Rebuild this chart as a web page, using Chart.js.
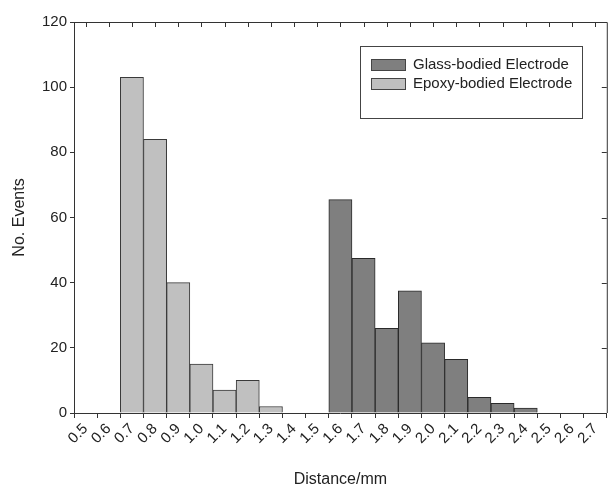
<!DOCTYPE html>
<html>
<head>
<meta charset="utf-8">
<script src="https://cdn.jsdelivr.net/npm/chart.js@4/dist/chart.umd.min.js"></script>
<style>
  html, body { margin: 0; padding: 0; background: #fff; }
  #wrap { width: 610px; height: 487px; }
</style>
</head>
<body>
<div id="wrap"><canvas id="chart" width="610" height="487"></canvas></div>
<script>
// bin centres (mm) and counts
var epoxyBins = [0.7, 0.8, 0.9, 1.0, 1.1, 1.2, 1.3];
var epoxyCounts = [103, 84, 40, 15, 7, 10, 2];
var glassBins = [1.6, 1.7, 1.8, 1.9, 2.0, 2.1, 2.2, 2.3, 2.4];
var glassCounts = [65.5, 47.5, 26, 37.5, 21.5, 16.5, 4.8, 3, 1.5];
var xTicks = [0.5, 0.6, 0.7, 0.8, 0.9, 1.0, 1.1, 1.2, 1.3, 1.4, 1.5, 1.6,
    1.7, 1.8, 1.9, 2.0, 2.1, 2.2, 2.3, 2.4, 2.5, 2.6, 2.7];
var yTicks = [0, 20, 40, 60, 80, 100, 120];

function toPoints(xs, ys) {
    return xs.map(function (x, i) { return {x: x, y: ys[i]}; });
}

var ink = '#222';
var fontFam = '"Liberation Sans", Arial, sans-serif';

// frame on top/right with inward ticks, plus boxed legend
var framePlugin = {
    id: 'frame',
    afterDraw: function (chart) {
        var ctx = chart.ctx, a = chart.chartArea;
        var xs = chart.scales.x, ys = chart.scales.y;
        ctx.save();
        ctx.strokeStyle = '#333';
        ctx.lineWidth = 1;
        ctx.beginPath();
        ctx.moveTo(a.left, a.top + 0.5);
        ctx.lineTo(a.right + 0.5, a.top + 0.5);
        ctx.lineTo(a.right + 0.5, a.bottom);
        xTicks.forEach(function (t) {
            var px = Math.round(xs.getPixelForValue(t)) + 0.5;
            ctx.moveTo(px, a.top);
            ctx.lineTo(px, a.top + 5);
        });
        yTicks.forEach(function (t) {
            var py = Math.round(ys.getPixelForValue(t)) + 0.5;
            ctx.moveTo(a.right, py);
            ctx.lineTo(a.right - 5, py);
        });
        ctx.stroke();

        // legend
        var lx = 360, ly = 46, lw = 222, lh = 72;
        ctx.strokeStyle = '#444';
        ctx.strokeRect(lx + 0.5, ly + 0.5, lw, lh);
        ctx.font = '15px ' + fontFam;
        ctx.textBaseline = 'middle';
        chart.data.datasets.forEach(function (ds, i) {
            var ry = ly + 18 + i * 19;
            ctx.fillStyle = ds.backgroundColor;
            ctx.fillRect(371, ry - 5, 34, 11);
            ctx.strokeStyle = '#444';
            ctx.strokeRect(371.5, ry - 5 + 0.5, 34, 11);
            ctx.fillStyle = ink;
            ctx.fillText(ds.label, 413, ry + 1);
        });
        ctx.restore();
    }
};

new Chart(document.getElementById('chart'), {
    type: 'bar',
    data: {
        datasets: [{
            label: 'Glass-bodied Electrode',
            data: toPoints(glassBins, glassCounts),
            backgroundColor: '#7f7f7f',
            borderColor: '#2a2a2a',
            borderWidth: 1,
            barPercentage: 1,
            categoryPercentage: 1,
            grouped: false
        }, {
            label: 'Epoxy-bodied Electrode',
            data: toPoints(epoxyBins, epoxyCounts),
            backgroundColor: '#c0c0c0',
            borderColor: '#3a3a3a',
            borderWidth: 1,
            barPercentage: 1,
            categoryPercentage: 1,
            grouped: false
        }]
    },
    options: {
        responsive: false,
        animation: false,
        layout: {padding: {top: 22, right: 3, left: 0, bottom: 0}},
        plugins: {legend: {display: false}, tooltip: {enabled: false}},
        scales: {
            x: {
                type: 'linear',
                min: 0.5,
                max: 2.7,
                afterBuildTicks: function (scale) {
                    scale.ticks = xTicks.map(function (v) { return {value: v}; });
                },
                afterFit: function (scale) { scale.height = 74; },
                grid: {display: true, drawOnChartArea: false, tickLength: 5, color: '#333'},
                border: {color: '#333'},
                ticks: {
                    minRotation: 45, maxRotation: 45, autoSkip: false,
                    color: ink, font: {family: fontFam, size: 15}, padding: 2,
                    callback: function (v) { return Number(v).toFixed(1); }
                },
                title: {display: true, text: 'Distance/mm', color: ink,
                    font: {family: fontFam, size: 16}, padding: {top: 10, bottom: -2}}
            },
            y: {
                min: 0,
                max: 120,
                afterBuildTicks: function (scale) {
                    scale.ticks = yTicks.map(function (v) { return {value: v}; });
                },
                afterFit: function (scale) { scale.width = 74; },
                grid: {display: true, drawOnChartArea: false, tickLength: 4, color: '#333'},
                border: {color: '#333'},
                ticks: {color: ink, font: {family: fontFam, size: 15}, padding: 3},
                title: {display: true, text: 'No. Events', color: ink,
                    font: {family: fontFam, size: 16}, padding: {top: 10, bottom: 8}}
            }
        }
    },
    plugins: [framePlugin]
});
</script>
</body>
</html>
